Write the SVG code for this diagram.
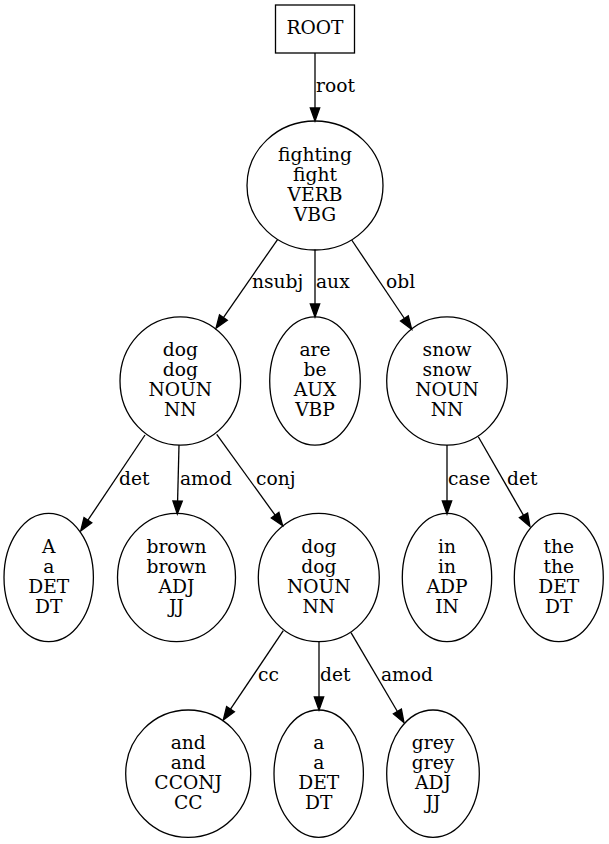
<svg xmlns="http://www.w3.org/2000/svg" width="609" height="844" viewBox="0 0 609 844">
<style>
  text { font-family: "DejaVu Serif", "Liberation Serif", serif; font-size: 18.67px; fill: #000; }
  .n text { text-anchor: middle; }
  .n ellipse, .n rect { fill: none; stroke: #000; stroke-width: 1.3; }
  #edges line { stroke: #000; stroke-width: 1.3; }
  #edges polygon { fill: #000; stroke: #000; stroke-width: 1.3; }
  #edges text { text-anchor: start; }
</style>
<rect width="609" height="844" fill="#fff"/>
<g id="edges">
  <line x1="315" y1="53" x2="315" y2="108"/><polygon points="315,121 310.3,108 319.7,108"/>
  <text x="316" y="92">root</text>
  <line x1="277.7" y1="239.3" x2="223.4" y2="317.6"/><polygon points="216,328.3 227.3,320.3 219.5,314.9"/>
  <text x="252" y="288">nsubj</text>
  <line x1="315" y1="249.5" x2="315" y2="304"/><polygon points="315,317 310.3,304 319.7,304"/>
  <text x="316" y="288">aux</text>
  <line x1="351.7" y1="240" x2="404.4" y2="318.5"/><polygon points="411.7,329.3 408.3,315.9 400.5,321.1"/>
  <text x="386" y="288">obl</text>
  <line x1="145" y1="435" x2="87.9" y2="520.2"/><polygon points="80.7,531 91.8,522.8 84,517.6"/>
  <text x="119" y="485">det</text>
  <line x1="179" y1="445" x2="177.6" y2="501"/><polygon points="177.3,514 182.3,501.1 172.9,500.9"/>
  <text x="180" y="485">amod</text>
  <line x1="216.7" y1="434.3" x2="275.1" y2="515.2"/><polygon points="282.7,525.7 278.9,512.4 271.3,517.9"/>
  <text x="256" y="485">conj</text>
  <line x1="447" y1="445" x2="447" y2="501"/><polygon points="447,514 442.3,501 451.7,501"/>
  <text x="448" y="485">case</text>
  <line x1="478.3" y1="436.7" x2="523.5" y2="515.4"/><polygon points="530,526.7 527.6,513.1 519.4,517.7"/>
  <text x="507" y="485">det</text>
  <line x1="283.3" y1="630.7" x2="230.5" y2="709.2"/><polygon points="223.3,720 234.4,711.8 226.6,706.6"/>
  <text x="258" y="681">cc</text>
  <line x1="319" y1="641.7" x2="319" y2="697"/><polygon points="319,710 314.3,697 323.7,697"/>
  <text x="320" y="681">det</text>
  <line x1="351" y1="632.7" x2="397.4" y2="711.5"/><polygon points="404,722.7 401.4,709.1 393.4,713.9"/>
  <text x="381" y="681">amod</text>
</g>
<g id="n-root" class="n"><rect x="275.5" y="5" width="79" height="48"/><text x="315" y="34">ROOT</text></g>
<g id="n-fighting" class="n"><ellipse cx="315" cy="185.5" rx="68" ry="64.5"/>
  <text x="315" y="160.5">fighting</text><text x="315" y="180.5">fight</text><text x="315" y="200.5">VERB</text><text x="315" y="220.5">VBG</text></g>
<g id="n-dog" class="n"><ellipse cx="180.3" cy="381" rx="60.3" ry="64.2"/>
  <text x="180.3" y="356">dog</text><text x="180.3" y="376">dog</text><text x="180.3" y="396">NOUN</text><text x="180.3" y="416">NN</text></g>
<g id="n-are" class="n"><ellipse cx="315" cy="381" rx="45.3" ry="64.2"/>
  <text x="315" y="356">are</text><text x="315" y="376">be</text><text x="315" y="396">AUX</text><text x="315" y="416">VBP</text></g>
<g id="n-snow" class="n"><ellipse cx="447" cy="381" rx="60.3" ry="64.2"/>
  <text x="447" y="356">snow</text><text x="447" y="376">snow</text><text x="447" y="396">NOUN</text><text x="447" y="416">NN</text></g>
<g id="n-A" class="n"><ellipse cx="48.7" cy="577.5" rx="44.7" ry="64.2"/>
  <text x="48.7" y="552.5">A</text><text x="48.7" y="572.5">a</text><text x="48.7" y="592.5">DET</text><text x="48.7" y="612.5">DT</text></g>
<g id="n-brown" class="n"><ellipse cx="176.5" cy="577.5" rx="59" ry="64.2"/>
  <text x="176.5" y="552.5">brown</text><text x="176.5" y="572.5">brown</text><text x="176.5" y="592.5">ADJ</text><text x="176.5" y="612.5">JJ</text></g>
<g id="n-dog2" class="n"><ellipse cx="318.8" cy="577.5" rx="60.5" ry="64.2"/>
  <text x="318.8" y="552.5">dog</text><text x="318.8" y="572.5">dog</text><text x="318.8" y="592.5">NOUN</text><text x="318.8" y="612.5">NN</text></g>
<g id="n-in" class="n"><ellipse cx="447" cy="577.5" rx="44.7" ry="64.2"/>
  <text x="447" y="552.5">in</text><text x="447" y="572.5">in</text><text x="447" y="592.5">ADP</text><text x="447" y="612.5">IN</text></g>
<g id="n-the" class="n"><ellipse cx="558.8" cy="577.5" rx="44.5" ry="64.2"/>
  <text x="558.8" y="552.5">the</text><text x="558.8" y="572.5">the</text><text x="558.8" y="592.5">DET</text><text x="558.8" y="612.5">DT</text></g>
<g id="n-and" class="n"><ellipse cx="188.2" cy="773.7" rx="62.5" ry="63.7"/>
  <text x="188.2" y="748.7">and</text><text x="188.2" y="768.7">and</text><text x="188.2" y="788.7">CCONJ</text><text x="188.2" y="808.7">CC</text></g>
<g id="n-a" class="n"><ellipse cx="318.7" cy="773.7" rx="44.7" ry="63.7"/>
  <text x="318.7" y="748.7">a</text><text x="318.7" y="768.7">a</text><text x="318.7" y="788.7">DET</text><text x="318.7" y="808.7">DT</text></g>
<g id="n-grey" class="n"><ellipse cx="433" cy="773.7" rx="46.3" ry="63.7"/>
  <text x="433" y="748.7">grey</text><text x="433" y="768.7">grey</text><text x="433" y="788.7">ADJ</text><text x="433" y="808.7">JJ</text></g>
</svg>
